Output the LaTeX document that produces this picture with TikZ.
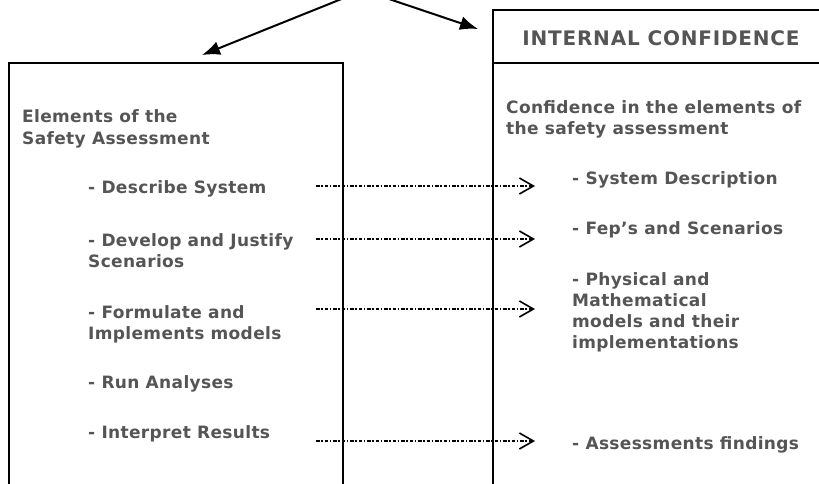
\documentclass[tikz,border=0pt]{standalone}
\usepackage{fontspec}
\setmainfont{DejaVu Sans}
\newfontfamily\lblfont[LetterSpace=2]{DejaVu Sans Bold}
\newfontfamily\hdrfont[LetterSpace=4]{DejaVu Sans Bold}
\usetikzlibrary{arrows.meta}
\definecolor{txtgray}{HTML}{555555}
\tikzset{
  box/.style={draw=black, line width=1.3pt},
  lbl/.style={anchor=base west, inner sep=0pt, text=txtgray, font=\lblfont\fontsize{17}{20}\selectfont},
  hdr/.style={anchor=base, inner sep=0pt, text=txtgray, font=\hdrfont\fontsize{20}{22}\selectfont},
  dasharrow/.style={line width=1.1pt, dash pattern=on 3.5pt off 1.8pt on 1.4pt off 1.8pt, -{Straight Barb[length=14pt,width=16pt,line width=1.6pt]}},
  toparrow/.style={line width=2pt, -{Latex[length=18pt,width=14pt]}}
}
\begin{document}
\begin{tikzpicture}[x=1pt,y=-1pt]
\useasboundingbox (0,0) rectangle (819,483);
% boxes
\draw[box] (9,495) -- (9,63) -- (343,63) -- (343,495);
\draw[box] (493,495) -- (493,10) -- (830,10);
\draw[line width=2pt] (493,63) -- (830,63);
% header
\node[hdr] (hd) at (661,45) {INTERNAL CONFIDENCE};
% left texts
\node[lbl] (l1) at (22,122) {Elements of the};
\node[lbl] (l2) at (22,144) {Safety Assessment};
\node[lbl] (d1) at (88,193) {- Describe System};
\node[lbl] (d2) at (88,246) {- Develop and Justify};
\node[lbl] (d2b) at (88,267) {Scenarios};
\node[lbl] (d3) at (88,318) {- Formulate and};
\node[lbl] (d3b) at (88,339) {Implements models};
\node[lbl] (d4) at (88,388) {- Run Analyses};
\node[lbl] (d5) at (88,438) {- Interpret Results};
% right texts
\node[lbl] (r1) at (506,113) {Confidence in the elements of};
\node[lbl] (r2) at (506,134) {the safety assessment};
\node[lbl] (c1) at (572,184) {- System Description};
\node[lbl] (c2) at (572,234) {- Fep’s and Scenarios};
\node[lbl] (c3) at (572,285) {- Physical and};
\node[lbl] (c3b) at (572,306) {Mathematical};
\node[lbl] (c3c) at (572,327) {models and their};
\node[lbl] (c3d) at (572,348) {implementations};
\node[lbl] (c5) at (572,449) {- Assessments findings};
% dashed connectors
\coordinate (s1) at (316,186); \coordinate (e1) at (535,186);
\coordinate (s2) at (316,239); \coordinate (e2) at (535,239);
\coordinate (s3) at (316,309); \coordinate (e3) at (535,309);
\coordinate (s4) at (316,441); \coordinate (e4) at (535,441);
\draw[dasharrow] (s1) -- (e1);
\draw[dasharrow] (s2) -- (e2);
\draw[dasharrow] (s3) -- (e3);
\draw[dasharrow] (s4) -- (e4);
% top arrows
\coordinate (t1) at (344,-2); \coordinate (t1e) at (202,55);
\coordinate (t2) at (386,-2); \coordinate (t2e) at (478,29);
\draw[toparrow] (t1) -- (t1e);
\draw[toparrow] (t2) -- (t2e);
\end{tikzpicture}
\end{document}
